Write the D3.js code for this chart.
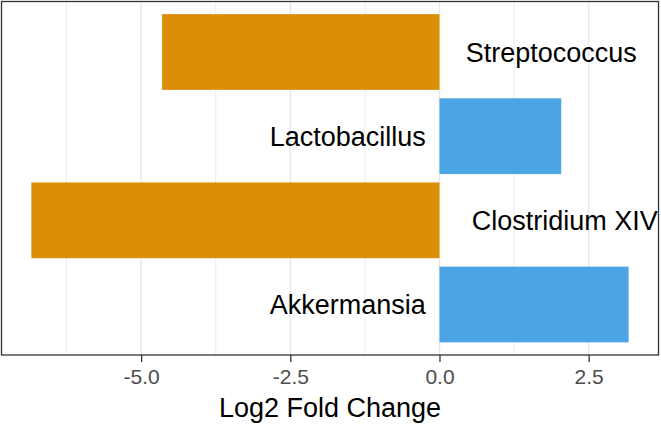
<!DOCTYPE html>
<html>
<head>
  <style>
    body { margin: 0; background: white; }
    svg { display: block; font-family: "Liberation Sans", Arial, Helvetica, sans-serif; }
    .grid-major { stroke: #e8e8e8; stroke-width: 1.5; }
    .grid-minor { stroke: #ebebeb; stroke-width: 1; }
    .tick-label { fill: #4d4d4d; font-size: 21px; }
    .bar-label { fill: black; font-size: 27px; }
    .axis-title { fill: black; font-size: 27px; }
  </style>
</head>
<body>
  <div id="chart"></div>
  <script src="https://cdnjs.cloudflare.com/ajax/libs/d3/7.8.5/d3.min.js"></script>
  <script>
    // Datos (de arriba a abajo)
    const genera = ["Streptococcus", "Lactobacillus", "Clostridium XIV", "Akkermansia"];
    const log2fc = [-4.65, 2.04, -6.84, 3.17];
    // posición x de cada etiqueta en unidades de log2 FC
    const labelAt = [0.44, -0.23, 0.54, -0.23];
    const xTicks = [-5.0, -2.5, 0.0, 2.5];
    const xMinor = [-6.25, -3.75, -1.25, 1.25, 3.75];

    const width = 661;
    const height = 424;
    const panel = { left: 1.5, right: 658.5, top: 1.5, bottom: 355 };

    const svg = d3.select("#chart")
      .append("svg")
      .attr("width", width)
      .attr("height", height);

    // Escalas (expansión 5% como ggplot)
    const lo = d3.min(log2fc), hi = d3.max(log2fc);
    const pad = (hi - lo) * 0.05;
    const xScale = d3.scaleLinear()
      .domain([lo - pad, hi + pad])
      .range([panel.left, panel.right]);

    const yScale = d3.scaleBand()
      .domain(genera)
      .range([panel.top, panel.bottom])
      .paddingInner(0.1)
      .paddingOuter(0.15);

    // Rejilla
    const grid = svg.append("g");
    grid.selectAll(".grid-minor")
      .data(xMinor.filter(d => xScale(d) > panel.left && xScale(d) < panel.right))
      .join("line")
      .attr("class", "grid-minor")
      .attr("x1", d => xScale(d)).attr("x2", d => xScale(d))
      .attr("y1", panel.top).attr("y2", panel.bottom);
    grid.selectAll(".grid-major")
      .data(xTicks)
      .join("line")
      .attr("class", "grid-major")
      .attr("x1", d => xScale(d)).attr("x2", d => xScale(d))
      .attr("y1", panel.top).attr("y2", panel.bottom);

    const data = genera.map((g, i) => ({ genus: g, value: log2fc[i], at: labelAt[i] }));

    // Barras
    svg.append("g")
      .selectAll("rect")
      .data(data)
      .join("rect")
      .attr("x", d => xScale(Math.min(0, d.value)))
      .attr("width", d => Math.abs(xScale(d.value) - xScale(0)))
      .attr("y", d => yScale(d.genus))
      .attr("height", yScale.bandwidth())
      .attr("fill", d => d.value < 0 ? "#dd8e07" : "#4ba4e3");

    // Etiquetas
    svg.append("clipPath").attr("id", "panel-clip")
      .append("rect")
      .attr("x", panel.left).attr("y", panel.top)
      .attr("width", panel.right - panel.left)
      .attr("height", panel.bottom - panel.top);

    svg.append("g")
      .attr("clip-path", "url(#panel-clip)")
      .selectAll("text")
      .data(data)
      .join("text")
      .attr("class", "bar-label")
      .attr("x", d => xScale(d.at))
      .attr("y", d => yScale(d.genus) + yScale.bandwidth() / 2 + 9.5)
      .attr("text-anchor", d => d.value < 0 ? "start" : "end")
      .text(d => d.genus);

    // Borde del panel
    svg.append("rect")
      .attr("x", panel.left).attr("y", panel.top)
      .attr("width", panel.right - panel.left)
      .attr("height", panel.bottom - panel.top)
      .attr("fill", "none")
      .attr("stroke", "#333333")
      .attr("stroke-width", 1.3);

    // Eje x
    const xAxis = d3.axisBottom(xScale)
      .tickValues(xTicks)
      .tickFormat(d => d.toFixed(1))
      .tickSize(7)
      .tickPadding(6);

    const xAxisG = svg.append("g")
      .attr("transform", `translate(0,${panel.bottom})`)
      .call(xAxis);
    xAxisG.select(".domain").remove();
    xAxisG.selectAll(".tick line").attr("stroke", "#333333").attr("stroke-width", 1.3);
    xAxisG.selectAll(".tick text")
      .attr("class", "tick-label")
      .attr("dy", null)
      .attr("y", 29);
    xAxisG.attr("font-size", null).attr("font-family", null);

    svg.append("text")
      .attr("class", "axis-title")
      .attr("x", (panel.left + panel.right) / 2)
      .attr("y", 417)
      .attr("text-anchor", "middle")
      .text("Log2 Fold Change");
  </script>
</body>
</html>
